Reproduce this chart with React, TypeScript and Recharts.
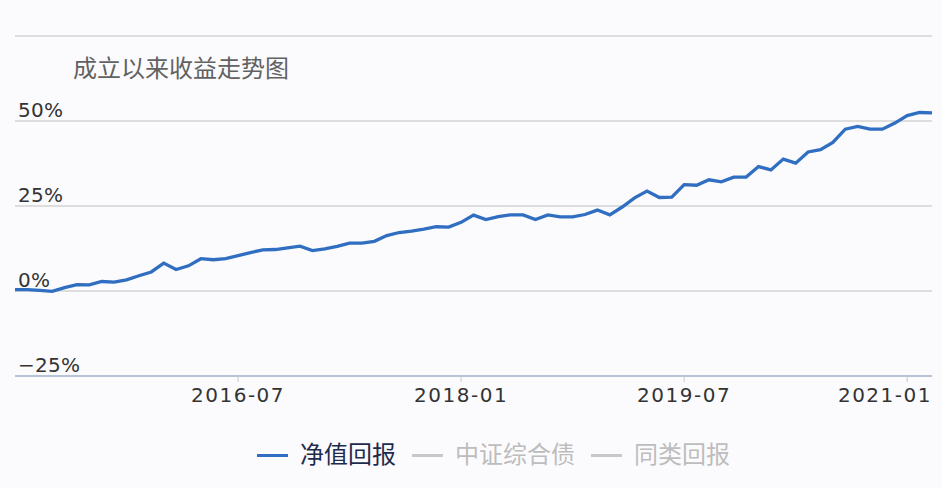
import React from "react";
import { LineChart, Line, XAxis, YAxis, CartesianGrid } from "recharts";

const months = [
  "2015-01","2015-02","2015-03","2015-04","2015-05","2015-06","2015-07","2015-08","2015-09","2015-10","2015-11","2015-12",
  "2016-01","2016-02","2016-03","2016-04","2016-05","2016-06","2016-07","2016-08","2016-09","2016-10","2016-11","2016-12",
  "2017-01","2017-02","2017-03","2017-04","2017-05","2017-06","2017-07","2017-08","2017-09","2017-10","2017-11","2017-12",
  "2018-01","2018-02","2018-03","2018-04","2018-05","2018-06","2018-07","2018-08","2018-09","2018-10","2018-11","2018-12",
  "2019-01","2019-02","2019-03","2019-04","2019-05","2019-06","2019-07","2019-08","2019-09","2019-10","2019-11","2019-12",
  "2020-01","2020-02","2020-03","2020-04","2020-05","2020-06","2020-07","2020-08","2020-09","2020-10","2020-11","2020-12",
  "2021-01","2021-02","2021-03",
];

const netValueReturn = [
  0.4, 0.4, 0.2, -0.1, 1.0, 1.9, 1.8, 2.8, 2.6, 3.3, 4.5, 5.6,
  8.2, 6.3, 7.4, 9.5, 9.2, 9.5, 10.4, 11.3, 12.1, 12.2, 12.7, 13.2,
  11.9, 12.4, 13.1, 14.1, 14.1, 14.6, 16.3, 17.2, 17.6, 18.2, 18.9, 18.8,
  20.2, 22.3, 21.0, 21.9, 22.4, 22.4, 21.0, 22.4, 21.8, 21.8, 22.5, 23.8,
  22.4, 24.7, 27.4, 29.4, 27.5, 27.6, 31.3, 31.1, 32.7, 32.1, 33.5, 33.5,
  36.6, 35.6, 38.8, 37.6, 40.9, 41.6, 43.7, 47.6, 48.4, 47.6, 47.6, 49.4,
  51.6, 52.5, 52.4,
];

const xTicks = ["2016-07", "2018-01", "2019-07", "2021-01"];
const yTicks = [-25, 0, 25, 50, 75];
const title = "成立以来收益走势图";
const legendItems = [
  { name: "净值回报", active: true },
  { name: "中证综合债", active: false },
  { name: "同类回报", active: false },
];

const data = months.map((m, i) => ({ month: m, value: netValueReturn[i] }));

const LINE_COLOR = "#2f6ec0";
const FONT = "'DejaVu Sans', sans-serif";
const CJK = "'Noto Sans CJK SC', sans-serif";
const PLOT_RIGHT = 932;

const formatPct = (v: number) => (v < 0 ? `\u2212${Math.abs(v)}%` : `${v}%`);

const renderYTick = (props: any) => {
  const { y, payload } = props;
  if (payload.value === 75) return <g key="t75" />;
  return (
    <text
      key={`y${payload.value}`}
      x={18}
      y={y - 4}
      fill="#333"
      fontSize={20}
      fontFamily={FONT}
      letterSpacing={0.3}
      textAnchor="start"
    >
      {formatPct(payload.value)}
    </text>
  );
};

const renderXTick = (props: any) => {
  const { x, y, payload } = props;
  const isLast = payload.value === xTicks[xTicks.length - 1];
  return (
    <text
      key={`x${payload.value}`}
      x={isLast ? PLOT_RIGHT : x}
      y={y + 18}
      fill="#333"
      fontSize={20}
      fontFamily={FONT}
      letterSpacing={1.5}
      textAnchor={isLast ? "end" : "middle"}
    >
      {payload.value}
    </text>
  );
};

export default function App() {
  return (
    <div
      style={{
        position: "absolute",
        left: 0,
        top: 0,
        width: 942,
        height: 488,
        background: "#fbfbfd",
        overflow: "hidden",
      }}
    >
      <LineChart
        width={942}
        height={488}
        data={data}
        margin={{ top: 36, right: 10, bottom: 82, left: 14 }}
      >
        <CartesianGrid vertical={false} stroke="#bfbfbf" strokeWidth={1.2} />
        <XAxis
          dataKey="month"
          ticks={xTicks}
          interval={0}
          height={30}
          tickSize={6}
          stroke="#a9bdd3"
          axisLine={{ stroke: "#a9bdd3", strokeWidth: 1.5 }}
          tickLine={{ stroke: "#c9c9c9" }}
          tick={renderXTick}
        />
        <YAxis
          type="number"
          domain={[-25, 75]}
          ticks={yTicks}
          interval={0}
          width={1}
          axisLine={false}
          tickLine={false}
          tick={renderYTick}
        />
        <Line
          type="linear"
          dataKey="value"
          stroke={LINE_COLOR}
          strokeWidth={3.3}
          dot={false}
          isAnimationActive={false}
        />
      </LineChart>
      <div
        style={{
          position: "absolute",
          left: 73,
          top: 53,
          fontSize: 24,
          lineHeight: "28px",
          color: "#626262",
          fontFamily: CJK,
          whiteSpace: "nowrap",
        }}
      >
        {title}
      </div>
      <div
        style={{
          position: "absolute",
          left: 257,
          top: 438,
          height: 30,
          display: "flex",
          alignItems: "center",
          fontFamily: CJK,
          fontSize: 24,
          whiteSpace: "nowrap",
        }}
      >
        {legendItems.map((it) => (
          <div key={it.name} style={{ display: "flex", alignItems: "center", marginRight: 16 }}>
            <div
              style={{
                width: 31,
                height: 3,
                background: it.active ? LINE_COLOR : "#c8c8c8",
                marginRight: 12,
                marginTop: 4,
              }}
            />
            <span style={{ color: it.active ? "#1e2b4c" : "#bdbdbd", lineHeight: "30px" }}>{it.name}</span>
          </div>
        ))}
      </div>
    </div>
  );
}
